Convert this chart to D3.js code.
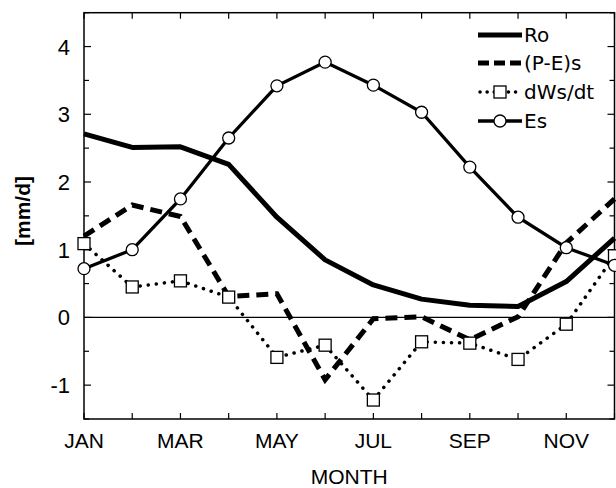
<!DOCTYPE html>
<html>
<head>
<meta charset="utf-8">
<script src="https://cdn.jsdelivr.net/npm/d3@7"></script>
<style>
  body { margin: 0; background: #fff; }
  svg { display: block; font-family: "Liberation Sans", Arial, sans-serif; }
</style>
</head>
<body>
<script>
// monthly values, Jan..Dec
const months = ['JAN','FEB','MAR','APR','MAY','JUN','JUL','AUG','SEP','OCT','NOV','DEC'];
const monthLabels = ['JAN','MAR','MAY','JUL','SEP','NOV'];
const ro   = [2.71, 2.51, 2.52, 2.26, 1.48, 0.85, 0.48, 0.27, 0.18, 0.16, 0.53, 1.17];
const pes  = [1.20, 1.66, 1.49, 0.31, 0.35, -0.92, -0.02, 0.01, -0.33, 0.01, 1.10, 1.75];
const dws  = [1.09, 0.45, 0.54, 0.30, -0.59, -0.41, -1.22, -0.36, -0.38, -0.62, -0.10, 0.91];
const es   = [0.72, 1.00, 1.75, 2.65, 3.42, 3.77, 3.43, 3.03, 2.22, 1.48, 1.03, 0.77];
const yTicks = [-1, 0, 1, 2, 3, 4];
const yMinor = [-1.5, -1, -0.5, 0, 0.5, 1, 1.5, 2, 2.5, 3, 3.5, 4, 4.5];
const legendNames = ['Ro', '(P-E)s', 'dWs/dt', 'Es'];

let width = 616, height = 488;
let plotL = 84, plotR = 614.5, plotT = 12.7, plotB = 419;

let svg = d3.select('body').append('svg')
    .attr('width', width)
    .attr('height', height);

let x = d3.scaleLinear().domain([0, 11]).range([plotL, plotR]);
let y = d3.scaleLinear().domain([-1.5, 4.5]).range([plotB, plotT]);

// frame
svg.append('rect')
    .attr('x', plotL).attr('y', plotT)
    .attr('width', plotR - plotL).attr('height', plotB - plotT)
    .style('fill', 'none').style('stroke', '#000').style('stroke-width', 1.5);

// zero line
svg.append('line')
    .attr('x1', plotL).attr('x2', plotR)
    .attr('y1', y(0)).attr('y2', y(0))
    .style('stroke', '#000').style('stroke-width', 1.3);

// ticks (inward) on all four sides
let tickG = svg.append('g').style('stroke', '#000').style('stroke-width', 1.2);
yMinor.forEach(v => {
    let len = Number.isInteger(v) ? 7 : 5;
    tickG.append('line').attr('x1', plotL).attr('x2', plotL + len).attr('y1', y(v)).attr('y2', y(v));
    tickG.append('line').attr('x1', plotR).attr('x2', plotR - len).attr('y1', y(v)).attr('y2', y(v));
});
d3.range(12).forEach(i => {
    tickG.append('line').attr('x1', x(i)).attr('x2', x(i)).attr('y1', plotB).attr('y2', plotB - 6);
    tickG.append('line').attr('x1', x(i)).attr('x2', x(i)).attr('y1', plotT).attr('y2', plotT + 6);
});

// tick labels
svg.selectAll('.ylab').data(yTicks).enter().append('text')
    .attr('x', 70).attr('y', d => y(d) + 8)
    .attr('text-anchor', 'end')
    .style('font-size', '22px')
    .text(d => d);

svg.selectAll('.xlab').data(monthLabels).enter().append('text')
    .attr('x', d => x(months.indexOf(d)))
    .attr('y', 448)
    .attr('text-anchor', 'middle')
    .style('font-size', '21px')
    .text(d => d);

svg.append('text')
    .attr('x', (plotL + plotR) / 2).attr('y', 484)
    .attr('text-anchor', 'middle')
    .style('font-size', '21px')
    .text('MONTH');

svg.append('text')
    .attr('transform', 'translate(30,211) rotate(-90)')
    .attr('text-anchor', 'middle')
    .style('font-size', '21px').style('font-weight', 'bold')
    .text('[mm/d]');

let line = d3.line().x((d, i) => x(i)).y(d => y(d));

// series
svg.append('path').attr('d', line(ro))
    .style('fill', 'none').style('stroke', '#000').style('stroke-width', 5)
    .style('stroke-linejoin', 'round');

svg.append('path').attr('d', line(pes))
    .style('fill', 'none').style('stroke', '#000').style('stroke-width', 5)
    .style('stroke-dasharray', '12,7');

svg.append('path').attr('d', line(dws))
    .style('fill', 'none').style('stroke', '#000').style('stroke-width', 3.5)
    .style('stroke-linecap', 'round').style('stroke-dasharray', '0.1,8');

svg.append('path').attr('d', line(es))
    .style('fill', 'none').style('stroke', '#000').style('stroke-width', 3.3);

svg.selectAll('.sq').data(dws).enter().append('rect')
    .attr('x', (d, i) => x(i) - 6).attr('y', d => y(d) - 6)
    .attr('width', 12).attr('height', 12)
    .style('fill', '#fff').style('stroke', '#000').style('stroke-width', 1.3);

svg.selectAll('.ci').data(es).enter().append('circle')
    .attr('cx', (d, i) => x(i)).attr('cy', d => y(d)).attr('r', 6)
    .style('fill', '#fff').style('stroke', '#000').style('stroke-width', 1.3);

// legend
let lx0 = 478, lx1 = 522, ly = [35, 63, 92, 121];
let lg = svg.append('g');
lg.append('line').attr('x1', lx0).attr('x2', lx1).attr('y1', ly[0]).attr('y2', ly[0])
    .style('stroke', '#000').style('stroke-width', 5);
lg.append('line').attr('x1', lx0).attr('x2', lx1).attr('y1', ly[1]).attr('y2', ly[1])
    .style('stroke', '#000').style('stroke-width', 5).style('stroke-dasharray', '11,5');
lg.append('line').attr('x1', lx0 + 2).attr('x2', lx1).attr('y1', ly[2]).attr('y2', ly[2])
    .style('stroke', '#000').style('stroke-width', 3.5)
    .style('stroke-linecap', 'round').style('stroke-dasharray', '0.1,7');
lg.append('rect').attr('x', (lx0 + lx1) / 2 - 6).attr('y', ly[2] - 6).attr('width', 12).attr('height', 12)
    .style('fill', '#fff').style('stroke', '#000').style('stroke-width', 1.3);
lg.append('line').attr('x1', lx0).attr('x2', lx1).attr('y1', ly[3]).attr('y2', ly[3])
    .style('stroke', '#000').style('stroke-width', 3.3);
lg.append('circle').attr('cx', (lx0 + lx1) / 2).attr('cy', ly[3]).attr('r', 6)
    .style('fill', '#fff').style('stroke', '#000').style('stroke-width', 1.3);
lg.selectAll('text').data(legendNames).enter().append('text')
    .attr('x', 524).attr('y', (d, i) => ly[i] + 7)
    .style('font-family', '"DejaVu Sans", sans-serif')
    .style('font-size', '20px')
    .text(d => d);
</script>
</body>
</html>
